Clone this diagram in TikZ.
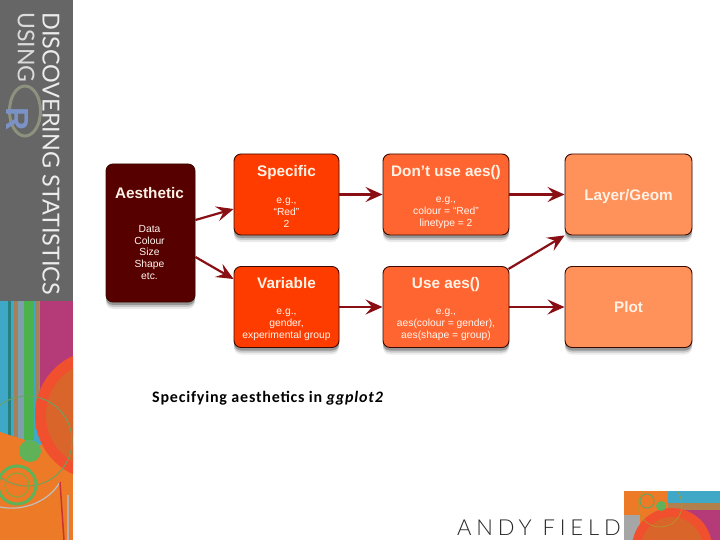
\documentclass[tikz,border=0pt]{standalone}
\usepackage{fontspec}
\setmainfont{Liberation Sans}
\newfontfamily\capfont[LetterSpace=5]{Carlito}
\newfontfamily\sidefont{Lato}
\newfontfamily\andyfont[LetterSpace=22]{Lato Light}
\usetikzlibrary{arrows.meta,shadows,calc}
\definecolor{aescol}{HTML}{560000}
\definecolor{speccol}{HTML}{FF3C00}
\definecolor{usecol}{HTML}{FF6530}
\definecolor{laycol}{HTML}{FF915A}
\definecolor{arrcol}{HTML}{8A0F14}
\definecolor{edgecol}{HTML}{3A0A00}
\definecolor{sidegray}{HTML}{666666}
\definecolor{sideblue}{HTML}{3FA8C6}
\definecolor{sidemag}{HTML}{B53A78}
\definecolor{sideora}{HTML}{D9652B}
\definecolor{sidered}{HTML}{F0502D}
\definecolor{sideorb}{HTML}{EC7A26}
\definecolor{sidegrn}{HTML}{5FB257}
\definecolor{ringcol}{HTML}{8C927E}
\definecolor{rcol}{HTML}{7A92C6}
\tikzset{
  x=1pt,y=-1pt,
  boxbase/.style={draw=edgecol,line width=0.9pt,rounded corners=7pt,inner sep=0pt,
    general shadow={shadow xshift=0pt,shadow yshift=-7pt,opacity=.08,fill=black,shadow scale=1.0},
    general shadow={shadow xshift=0pt,shadow yshift=-5pt,opacity=.14,fill=black,shadow scale=1.0},
    general shadow={shadow xshift=0pt,shadow yshift=-3pt,opacity=.25,fill=black,shadow scale=1.0}},
  aesbox/.style={boxbase,fill=aescol,minimum width=89pt,minimum height=138pt},
  specbox/.style={boxbase,fill=speccol,minimum width=105pt,minimum height=81pt},
  usebox/.style={boxbase,fill=usecol,minimum width=126pt,minimum height=81pt},
  laybox/.style={boxbase,fill=laycol,minimum width=127pt,minimum height=81pt},
  title/.style={text=white!90!orange,font=\fontsize{15.3}{17}\selectfont\bfseries,inner sep=0pt},
  body/.style={text=white!94!orange,font=\fontsize{10.3}{11.8}\selectfont,align=center,inner sep=0pt},
  link/.style={draw=arrcol,line width=2.2pt,-{Stealth[length=17pt,width=15pt,inset=6.5pt]}},
}
\begin{document}
\begin{tikzpicture}
\useasboundingbox (0,0) rectangle (720,540);
\fill[white] (0,0) rectangle (720,540);
% side panel
\begin{scope}
\clip (0,0) rectangle (73,540);
\fill[sidegray] (0,0) rectangle (73,301);
\fill[sideorb] (0,400) rectangle (73,540);
\fill[sideblue] (0,301) rectangle (42,445);
\fill[sidemag] (40,301) rectangle (73,420);
\fill[teal!70!gray] (8,301) rectangle (11,440);
\fill[brown!60!gray] (14,301) rectangle (18,440);
\fill[gray!70!cyan] (18,301) rectangle (24,440);
\fill[green!40!gray] (24,301) rectangle (34,440);
\fill[gray!70!orange] (35,301) rectangle (39,430);
\fill[sidered] (100,415) circle[radius=65];
\fill[sideora] (100,415) circle[radius=54];
\fill[sideorb] (0,432) -- (25,440) -- (50,470) -- (60,540) -- (0,540) -- cycle;
\draw[sidegrn!70!gray,line width=0.9pt] (27,441) circle[radius=45];
\fill[sidegrn] (30,451) circle[radius=11];
\draw[sidegrn,line width=3pt] (17,485) circle[radius=19];
\draw[sidegrn!70!orange,line width=1.2pt] (17,485) circle[radius=12];
\draw[gray!50,line width=1.2pt] (0,507) .. controls (25,512) and (50,500) .. (60,482);
\draw[red!60!gray,line width=1.5pt] (60,482) -- (64,540);
\draw[gray!60,line width=1.5pt] (68,495) -- (68,540);
\end{scope}
\node[rotate=-90,anchor=west,text=white!85!gray,font=\fontsize{23.4}{24}\sidefont,inner sep=0pt] (sidetitle) at (51,12) {DISCOVERING STATISTICS};
\node[rotate=-90,anchor=west,text=white!72!gray,font=\fontsize{23}{24}\sidefont,inner sep=0pt] (sideusing) at (26,12) {USING};
\draw[ringcol,line width=3pt] (25,111) ellipse[x radius=15.5, y radius=25];
\node[rotate=-90,text=rcol,font=\fontsize{32}{32}\selectfont\bfseries,inner sep=0pt] (sider) at (17.5,119) {R};
% footer
\begin{scope}
\clip (624,491) rectangle (720,540);
\fill[sideorb] (624,491) rectangle (668,540);
\fill[sideblue] (668,491) rectangle (720,503);
\fill[gray!60!orange] (668,503) rectangle (720,510);
\fill[sidemag] (668,510) rectangle (720,540);
\fill[gray!70] (624,515) rectangle (640,540);
\fill[sidered] (672,548) circle[radius=40];
\fill[sideora] (672,548) circle[radius=31];
\draw[sidegrn!70!gray,line width=1pt] (647,501) circle[radius=7];
\draw[sidegrn!50!orange,line width=.6pt] (660,505) circle[radius=22];
\fill[sidegrn] (661,506) circle[radius=5];
\end{scope}
\node[anchor=west,text=black!85,font=\fontsize{22}{24}\andyfont,inner sep=0pt] (andy) at (457,528) {ANDY FIELD};
% boxes
\node[aesbox] (aes) at (150.5,233) {};
\node[specbox] (spec) at (286.5,194.5) {};
\node[specbox] (var) at (286.5,307) {};
\node[usebox] (dont) at (446,194.5) {};
\node[usebox] (use) at (446,307) {};
\node[laybox] (lay) at (628.5,194.5) {};
\node[laybox] (plot) at (628.5,307) {};
% texts
\node[title] (aest) at (149.5,193) {Aesthetic};
\node[body] (aesb) at (149.5,252.5) {Data\\Colour\\Size\\Shape\\etc.};
\node[title] (spect) at (286.5,173) {Specific};
\node[body] (specb) at (286.5,212.5) {e.g.,\\``Red''\\2};
\node[title] (vart) at (286.5,283.5) {Variable};
\node[body] (varb) at (286.5,324.5) {e.g.,\\gender,\\experimental group};
\node[title] (dontt) at (446,173) {Don't use aes()};
\node[body] (dontb) at (446,212.5) {e.g.,\\colour = ``Red''\\linetype = 2};
\node[title] (uset) at (446,285) {Use aes()};
\node[body] (useb) at (446,324.5) {e.g.,\\aes(colour = gender),\\aes(shape = group)};
\node[title] (layt) at (628.5,196.5) {Layer/Geom};
\node[title] (plott) at (628.5,307) {Plot};
% connectors
\draw[link] ([yshift=13pt]aes.east) -- ([yshift=-14.5pt]spec.west);
\draw[link] ([yshift=-24pt]aes.east) -- ([yshift=28pt]var.west);
\draw[link] (spec.east) -- (dont.west);
\draw[link] (var.east) -- (use.west);
\draw[link] (dont.east) -- (lay.west);
\draw[link] ([xshift=-1pt,yshift=38pt]use.east) -- (lay.south west);
\draw[link] (use.east) -- (plot.west);
% caption
\node[anchor=west,inner sep=0pt,text=black,font=\fontsize{16}{18}\capfont\bfseries] (cap) at (152,398) {Specifying aesthetics in \textit{ggplot2}};
\end{tikzpicture}
\end{document}
